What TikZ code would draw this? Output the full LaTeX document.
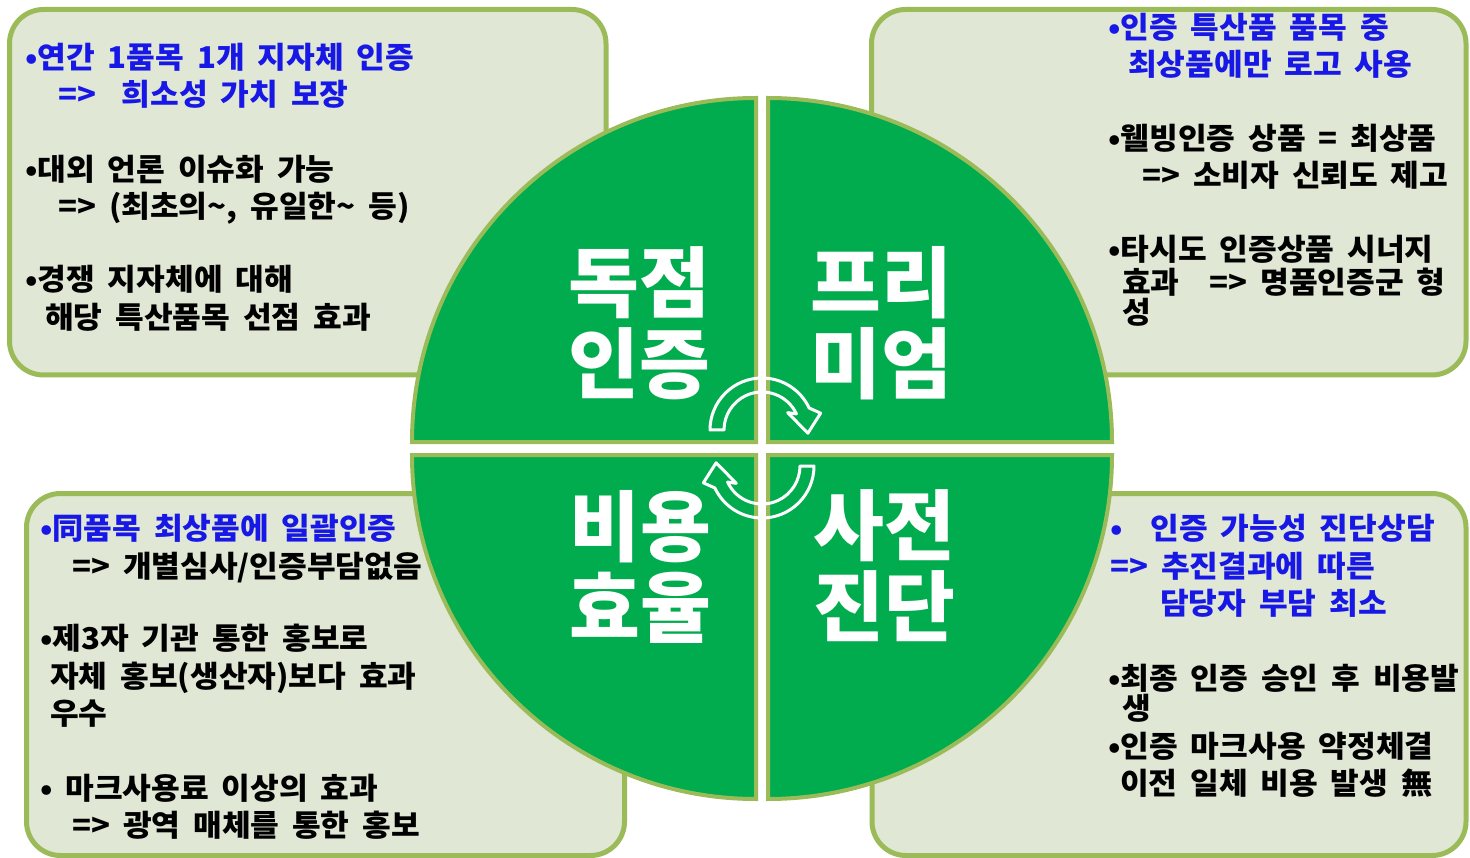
\documentclass[tikz,border=0pt]{standalone}
\usepackage{fontspec}
\newfontfamily\kr[WordSpace=1.8,FakeStretch=1.04]{Noto Sans CJK KR}
\newfontfamily\krt{Noto Sans CJK KR}
\usetikzlibrary{calc}
\definecolor{boxfill}{RGB}{224,231,212}
\definecolor{olive}{RGB}{155,187,89}
\definecolor{qgreen}{RGB}{0,172,78}
\definecolor{kblue}{RGB}{24,24,230}
\tikzset{
  infobox/.style={draw=olive, line width=5pt, fill=boxfill, rounded corners=34pt},
  quad/.style={draw=olive, line width=4pt, fill=qgreen, line join=miter},
  body/.style={anchor=base west, inner sep=0pt, font=\kr\bfseries\fontsize{30}{36}\selectfont, text=black},
  bluetxt/.style={body, text=kblue},
  title/.style={align=center, text=white, font=\krt\bfseries\fontsize{77}{81}\selectfont, inner sep=0pt},
  cyc/.style={draw=white, line width=3pt, line join=round},
}
\begin{document}
\begin{tikzpicture}[x=1pt,y=-1pt]
\useasboundingbox (0,0) rectangle (1470,858);
% info boxes
\draw[infobox] (9.5,9.5) rectangle (606,375);
\draw[infobox] (871.5,9.5) rectangle (1466,375);
\draw[infobox] (26.5,493.5) rectangle (624.5,855.5);
\draw[infobox] (872,493.5) rectangle (1466,855.5);
% top-left text
\node[bluetxt] (a1) at (25,69) {•연간 1품목 1개 지자체 인증};
\node[bluetxt] (a2) at (58,106) {=>\ \ 희소성 가치 보장};
\node[body] (a3) at (25,181) {•대외 언론 이슈화 가능};
\node[body] (a4) at (58,218) {=> (최초의\textasciitilde, 유일한\textasciitilde{} 등)};
\node[body] (a5) at (25,291) {•경쟁 지자체에 대해};
\node[body] (a6) at (45,329) {해당 특산품목 선점 효과};
% top-right text
\node[bluetxt] (b1) at (1108,39) {•인증 특산품 품목 중};
\node[bluetxt] (b2) at (1128,76) {최상품에만 로고 사용};
\node[body] (b3) at (1108,150) {•웰빙인증 상품 = 최상품};
\node[body] (b4) at (1142,187) {=> 소비자 신뢰도 제고};
\node[body] (b5) at (1108,261) {•타시도 인증상품 시너지};
\node[body] (b6) at (1122,294) {효과\quad => 명품인증군 형};
\node[body] (b7) at (1122,324) {성};
% bottom-left text
\node[bluetxt] (c1) at (40,539) {•同품목 최상품에 일괄인증};
\node[body] (c2) at (72,577) {=> 개별심사/인증부담없음};
\node[body] (c3) at (40,649) {•제3자 기관 통한 홍보로};
\node[body] (c4) at (50,687) {자체 홍보(생산자)보다 효과};
\node[body] (c5) at (50,724) {우수};
\node[body] (c6) at (40,799) {• 마크사용료 이상의 효과};
\node[body] (c7) at (72,836) {=> 광역 매체를 통한 홍보};
% bottom-right text
\node[bluetxt] (d1) at (1110,539) {•\hspace{28pt}인증 가능성 진단상담};
\node[bluetxt] (d2) at (1110,577) {=> 추진결과에 따른};
\node[bluetxt] (d3) at (1160,614) {담당자 부담 최소};
\node[body] (d4) at (1108,689) {•최종 인증 승인 후 비용발};
\node[body] (d5) at (1122,719) {생};
\node[body] (d6) at (1108,757) {•인증 마크사용 약정체결};
\node[body] (d7) at (1120,794) {이전 일체 비용 발생 無};
% quadrants
\draw[quad] (756,442) -- (412,442) arc[start angle=180,end angle=270,radius=344] -- cycle;
\draw[quad] (768,442) -- (768,98) arc[start angle=270,end angle=360,radius=344] -- cycle;
\draw[quad] (768,455) -- (1112,455) arc[start angle=0,end angle=90,radius=344] -- cycle;
\draw[quad] (756,455) -- (756,799) arc[start angle=90,end angle=180,radius=344] -- cycle;
% titles
\node[title] (t1) at (639,323) {독점\\인증};
\node[title] (t2) at (881,323) {프리\\미엄};
\node[title] (t3) at (640,567) {비용\\효율};
\node[title] (t4) at (884,566) {사전\\진단};
% cycle arrows
\begin{scope}[shift={(762,430)}]
\draw[cyc] (180:52) arc[start angle=180,end angle=335,radius=52] -- (344:61) -- (4:46) -- (326:31) -- (335:38) arc[start angle=335,end angle=180,radius=38] -- cycle;
\end{scope}
\begin{scope}[shift={(762,466)},rotate=180]
\draw[cyc] (180:52) arc[start angle=180,end angle=335,radius=52] -- (344:61) -- (4:46) -- (326:31) -- (335:38) arc[start angle=335,end angle=180,radius=38] -- cycle;
\end{scope}
\end{tikzpicture}
\end{document}
